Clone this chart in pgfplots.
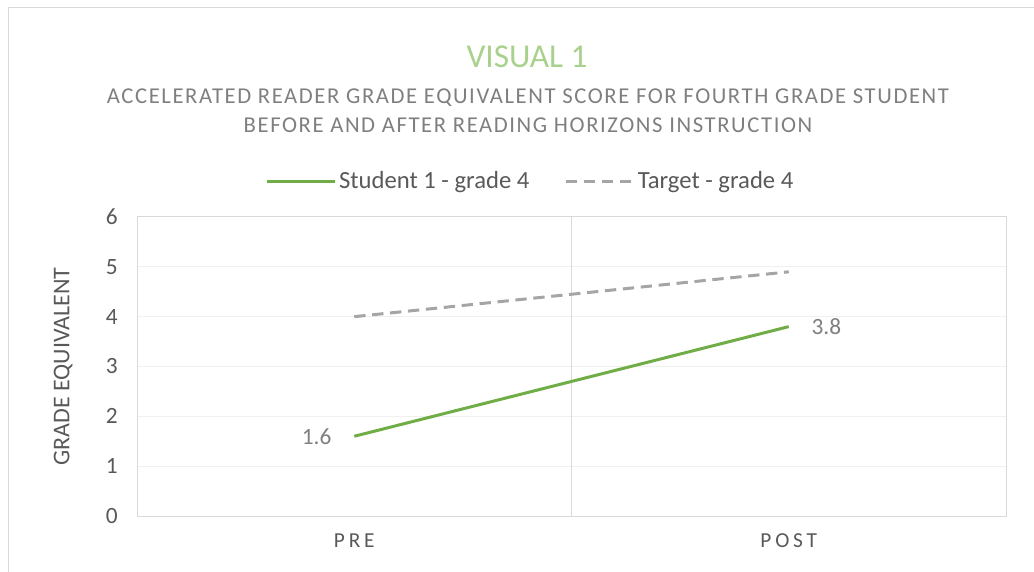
\documentclass[border=0pt]{standalone}
\usepackage{fontspec}
\setmainfont{Carlito}
\usepackage{pgfplots}
\pgfplotsset{compat=1.18}

\definecolor{stugreen}{HTML}{70AD47}
\definecolor{tgtgray}{HTML}{A5A5A5}
\definecolor{titlegreen}{HTML}{A9D18E}
\definecolor{txtgray}{HTML}{595959}
\definecolor{subgray}{HTML}{7F7F7F}
\definecolor{axgray}{HTML}{D9D9D9}
\definecolor{gridgray}{HTML}{F0F0F0}

\newcommand{\fs}[1]{\fontsize{#1}{1.2\dimexpr#1\relax}\selectfont}

\begin{document}
\begin{tikzpicture}[x=0.75pt,y=0.75pt]
\useasboundingbox (0,0) rectangle (1034,571);
\draw[axgray, line width=0.75pt] (8,-20) -- (8,563) -- (1060,563);

\node[text=titlegreen, font=\fs{25pt}] at (527,514) {VISUAL 1};
\node[text=subgray, font=\fs{17pt}\addfontfeature{LetterSpace=7}, align=center, inner sep=0pt]
  at (528,460) {ACCELERATED READER GRADE EQUIVALENT SCORE FOR FOURTH GRADE STUDENT\\[1pt]
  BEFORE AND AFTER READING HORIZONS INSTRUCTION};

\begin{axis}[
  at={(102.75pt,41.25pt)}, anchor=south west,
  scale only axis,
  width=651.75pt, height=224.25pt,
  xmin=0, xmax=2, ymin=0, ymax=6,
  xtick={0.5,1.5},
  xticklabels={PRE,POST},
  ytick={0,1,...,6},
  /pgf/number format/assume math mode=true,
  extra x ticks={1},
  extra x tick labels={},
  extra x tick style={grid=major, major grid style={axgray, line width=0.75pt}},
  ymajorgrids,
  major grid style={gridgray, line width=0.75pt},
  axis line style={axgray, line width=0.75pt},
  major tick length=0pt,
  tick label style={text=txtgray, font=\fs{17.5pt}},
  yticklabel style={xshift=-11pt},
  xticklabel style={yshift=-10pt, font=\fs{16pt}\addfontfeature{LetterSpace=18}},
  ylabel={GRADE EQUIVALENT},
  ylabel style={at={(axis description cs:-0.085,0.5)}, anchor=center, text=txtgray, font=\fs{18pt}},
  legend style={at={(axis description cs:0.453,1.12)}, anchor=center, draw=none, fill=none,
    legend columns=2, text=txtgray, font=\fs{18.5pt},
    /tikz/every even column/.append style={column sep=24pt}},
  legend image code/.code={\draw[#1] (0pt,0pt) -- (51pt,0pt);},
  clip=false,
]
\addplot[stugreen, line width=2.25pt,
  nodes near coords, point meta=explicit symbolic,
  visualization depends on={value \thisrow{anc}\as\myanc},
  every node near coord/.append style={anchor=\myanc, text=subgray, font=\fs{17.5pt}, inner xsep=16pt}]
  table[x=x, y=y, meta=lab] {
x   y   lab anc
0.5 1.6 1.6 east
1.5 3.8 3.8 west
};
\addlegendentry{Student 1 - grade 4}
\addplot[tgtgray, line width=2.25pt, dash pattern=on 8.5pt off 5pt] coordinates {(0.5,4) (1.5,4.9)};
\addlegendentry{Target - grade 4}
\end{axis}
\end{tikzpicture}
\end{document}
